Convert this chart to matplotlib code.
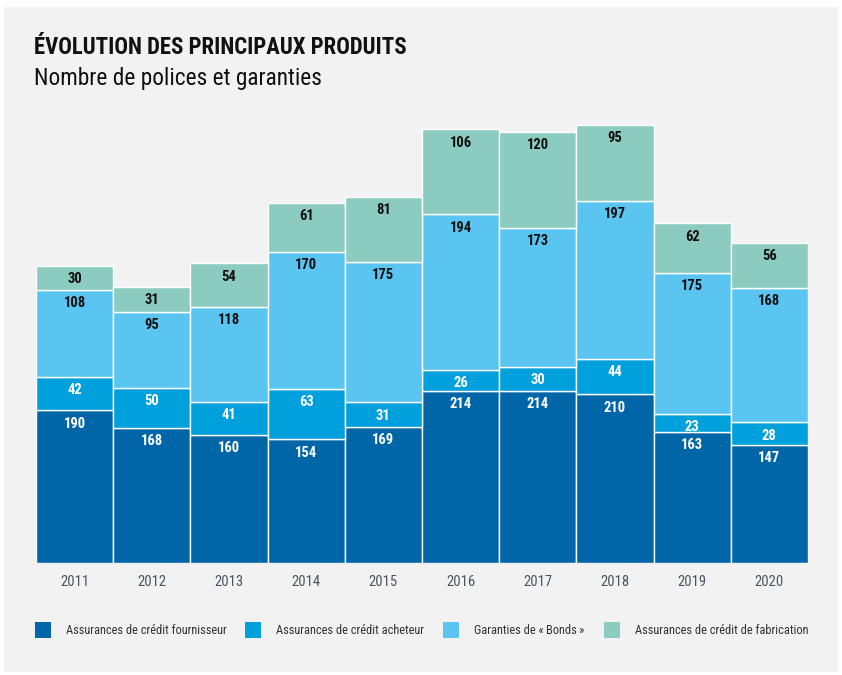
import matplotlib.pyplot as plt
from matplotlib.patches import Rectangle
import numpy as np

# Data
years = ['2011', '2012', '2013', '2014', '2015', '2016', '2017', '2018', '2019', '2020']
fournisseur = [190, 168, 160, 154, 169, 214, 214, 210, 163, 147]
acheteur = [42, 50, 41, 63, 31, 26, 30, 44, 23, 28]
bonds = [108, 95, 118, 170, 175, 194, 173, 197, 175, 168]
fabrication = [30, 31, 54, 61, 81, 106, 120, 95, 62, 56]

series_names = ['Assurances de crédit fournisseur', 'Assurances de crédit acheteur',
                'Garanties de «\u2009Bonds\u2009»', 'Assurances de crédit de fabrication']
colors = ['#0066a8', '#00a0dc', '#5bc5f2', '#8ccbc0']
text_colors = ['white', 'white', '#111111', '#111111']

plt.rcParams['font.family'] = ['Roboto Condensed', 'DejaVu Sans']

W, H = 842, 675
fig = plt.figure(figsize=(W / 100, H / 100), dpi=100)
fig.patch.set_facecolor('white')
fig.patches.append(Rectangle((4 / W, 1 - 672 / H), 834 / W, 665 / H,
                             transform=fig.transFigure, facecolor='#f2f2f2',
                             edgecolor='none', zorder=-5))

# axes: bars from x=36 to 808, baseline at y=563
ax_top = 110
ax = fig.add_axes([36 / W, 1 - 563 / H, (808 - 36) / W, (563 - ax_top) / H])
ax.set_facecolor('none')
scale = 0.803  # px per unit
ax.set_ylim(0, (563 - ax_top) / scale)
ax.set_xlim(-0.5, len(years) - 0.5)

x = np.arange(len(years))
bottom = np.zeros(len(years))
for vals, col, tcol, name in zip([fournisseur, acheteur, bonds, fabrication],
                                 colors, text_colors, series_names):
    vals = np.array(vals)
    ax.bar(x, vals, width=1.0, bottom=bottom, color=col,
           edgecolor='white', linewidth=1.0, label=name)
    for xi, b, v in zip(x, bottom, vals):
        ax.annotate(str(v), (xi, b + v), xytext=(0, -9.5), textcoords='offset points',
                    ha='center', va='center', fontsize=10.5, fontweight='bold',
                    color=tcol)
    bottom = bottom + vals

for s in ax.spines.values():
    s.set_visible(False)
ax.set_yticks([])
ax.set_xticks(x)
ax.set_xticklabels(years, fontsize=10.5, color='#4a5560')
ax.tick_params(axis='x', length=0, pad=8.5)

fig.text(34 / W, 1 - 47 / H, 'ÉVOLUTION DES PRINCIPAUX PRODUITS', fontsize=16.4,
         fontweight='bold', color='#111111', va='center', ha='left')
fig.text(34 / W, 1 - 78 / H, 'Nombre de polices et garanties', fontsize=16.8,
         color='#111111', va='center', ha='left')

# legend drawn by hand to match spacing
leg_x = [35, 245, 443, 604]
for lx, col, name in zip(leg_x, colors, series_names):
    fig.patches.append(Rectangle((lx / W, 1 - 638 / H), 16 / W, 16 / H,
                                 transform=fig.transFigure, facecolor=col,
                                 edgecolor='none'))
    fig.text((lx + 31) / W, 1 - 630 / H, name, fontsize=8.9, color='#333333',
             va='center', ha='left')

fig.savefig('out.png', dpi=100, facecolor=fig.get_facecolor())
